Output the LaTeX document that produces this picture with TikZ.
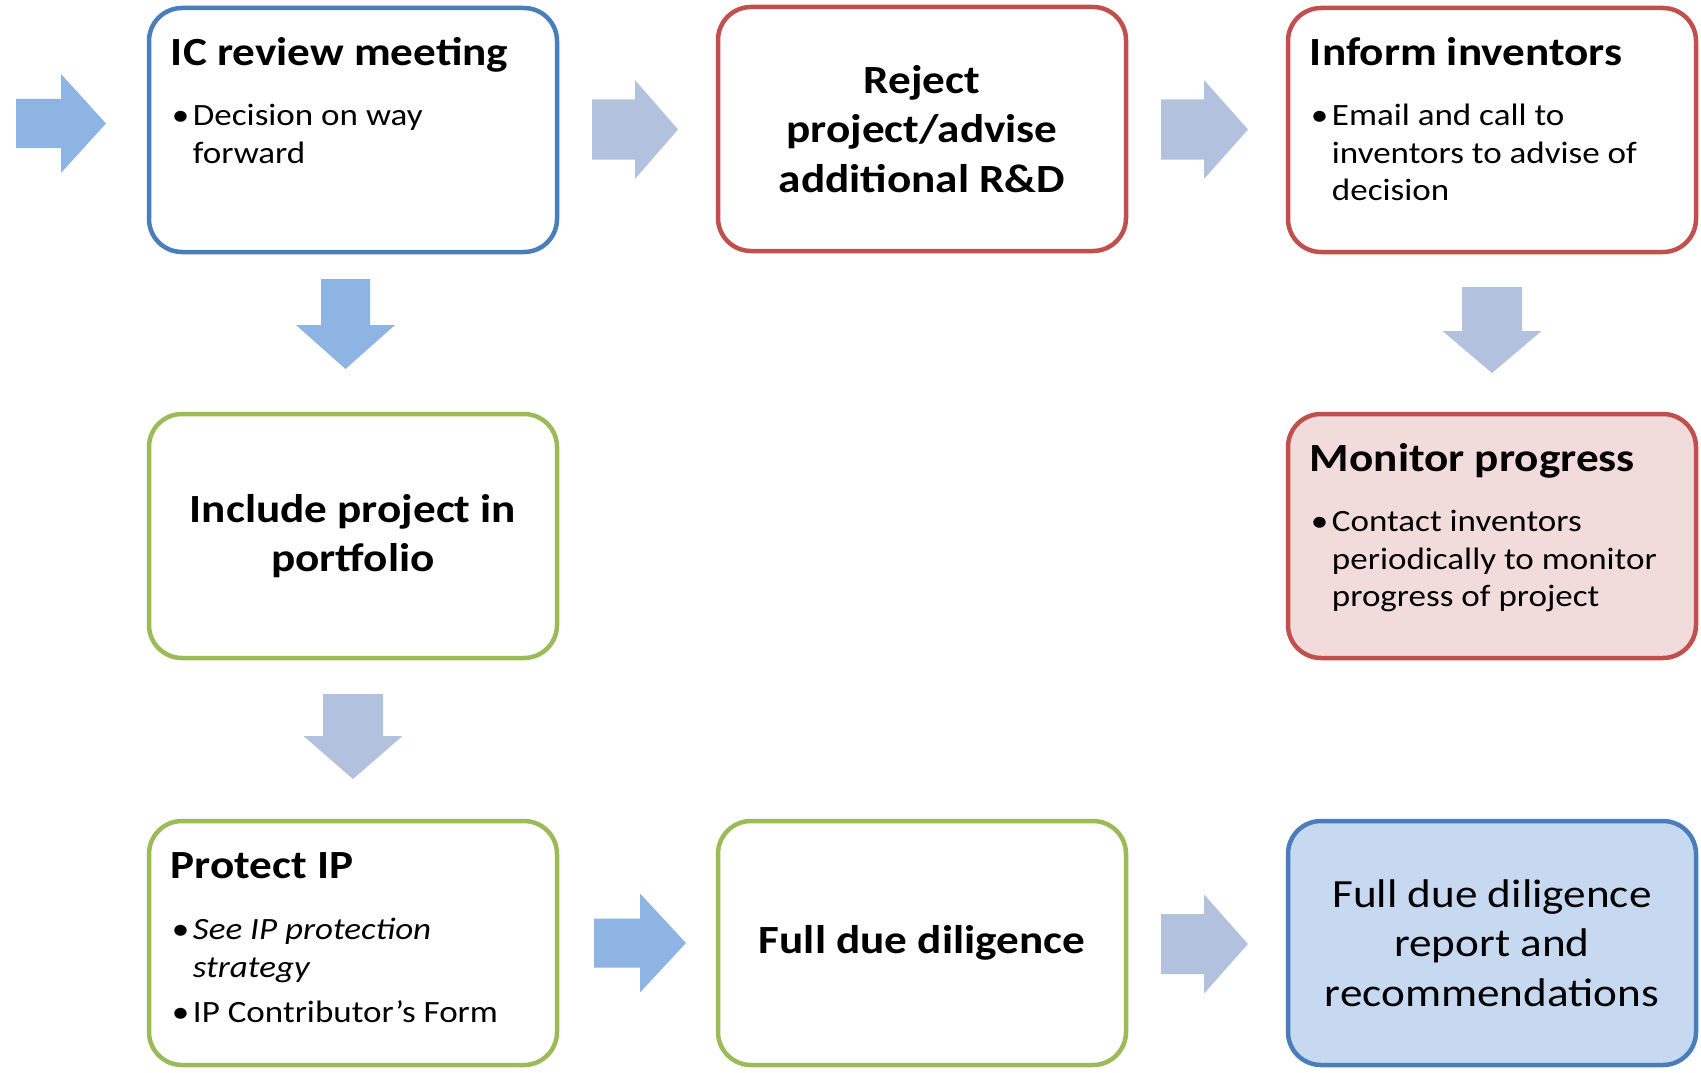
\documentclass[tikz,border=0pt]{standalone}
\usepackage{fontspec}
\setmainfont{Carlito}[FakeStretch=1.13]
\definecolor{cblue}{HTML}{4A7EBB}
\definecolor{cred}{HTML}{C0504D}
\definecolor{cgreen}{HTML}{9BBB59}
\definecolor{fpink}{HTML}{F2DCDB}
\definecolor{flblue}{HTML}{C6D9F1}
\definecolor{abright}{HTML}{8EB4E3}
\definecolor{agray}{HTML}{B1C1DE}
\newcommand{\bitem}[1]{\makebox[21pt][l]{\textbullet}\begin{tabular}[t]{@{}l@{}}#1\end{tabular}}
% right block arrow: x0, xh, x1, yc, shaft half, colour
\newcommand{\rarr}[6]{\fill[#6] (#1,#4-#5) -- (#2,#4-#5) -- (#2,#4-49.5) -- (#3,#4) -- (#2,#4+49.5) -- (#2,#4+#5) -- (#1,#4+#5) -- cycle;}
% down block arrow: xc, y0, yh, y1, shaft half, colour
\newcommand{\darr}[6]{\fill[#6] (#1-#5,#2) -- (#1+#5,#2) -- (#1+#5,#3) -- (#1+49.5,#3) -- (#1,#4) -- (#1-49.5,#3) -- (#1-#5,#3) -- cycle;}
\begin{document}
\begin{tikzpicture}[x=1pt,y=-1pt,
  box/.style={draw, line width=4.5pt, rounded corners=33pt, minimum width=408pt, minimum height=244pt, inner sep=0pt},
  ttl/.style={anchor=base west, inner sep=0pt, font=\bfseries\fontsize{40}{48}\selectfont},
  bul/.style={anchor=base west, inner sep=0pt, font=\fontsize{31}{37.5}\selectfont},
  ctext/.style={align=center, font=\bfseries\fontsize{40}{49.5}\selectfont},
  ptext/.style={align=center, font=\fontsize{40}{49.5}\selectfont}]
\useasboundingbox (0,0) rectangle (1701,1073);

% boxes
\node[box, draw=cblue] (ic) at (353,130) {};
\node[box, draw=cred, ctext] (rej) at (922,129) {Reject\\project/advise\\additional R\&D};
\node[box, draw=cred] (inf) at (1492,130) {};
\node[box, draw=cgreen, ctext] (inc) at (353,536) {Include project in\\portfolio};
\node[box, draw=cred, fill=fpink] (mon) at (1492,536) {};
\node[box, draw=cgreen] (pip) at (353,943) {};
\node[box, draw=cgreen, ctext] (fdd) at (922,943) {Full due diligence};
\node[box, draw=cblue, fill=flblue, ptext] (rep) at (1492,943) {Full due diligence\\report and\\recommendations};

% titles and bullets
\node[ttl] (ic-t) at ([shift={(24,60)}]ic.north west) {IC review meeting};
\node[bul] (ic-b) at ([shift={(25,120)}]ic.north west) {\bitem{Decision on way\\forward}};
\node[ttl] (inf-t) at ([shift={(24,60)}]inf.north west) {Inform inventors};
\node[bul] (inf-b) at ([shift={(25,120)}]inf.north west) {\bitem{Email and call to\\inventors to advise of\\decision}};
\node[ttl] (mon-t) at ([shift={(24,60)}]mon.north west) {Monitor progress};
\node[bul] (mon-b) at ([shift={(25,120)}]mon.north west) {\bitem{Contact inventors\\periodically to monitor\\progress of project}};
\node[ttl] (pip-t) at ([shift={(24,60)}]pip.north west) {Protect IP};
\node[bul] (pip-b1) at ([shift={(25,121)}]pip.north west) {\bitem{\itshape See IP protection\\\itshape strategy}};
\node[bul] (pip-b2) at ([shift={(25,204)}]pip.north west) {\bitem{IP Contributor’s Form}};

% block arrows
\rarr{16}{61}{106}{123.5}{24.5}{abright}
\rarr{592}{635}{678}{129.5}{30}{agray}
\rarr{1161}{1204}{1248}{129.5}{30}{agray}
\darr{345.5}{279}{325}{369}{24.5}{abright}
\darr{1492}{287}{331}{373}{30}{agray}
\darr{353}{694}{736}{779}{30}{agray}
\rarr{594}{640}{686}{943}{24.5}{abright}
\rarr{1161}{1204}{1248}{944}{30}{agray}
\end{tikzpicture}
\end{document}
